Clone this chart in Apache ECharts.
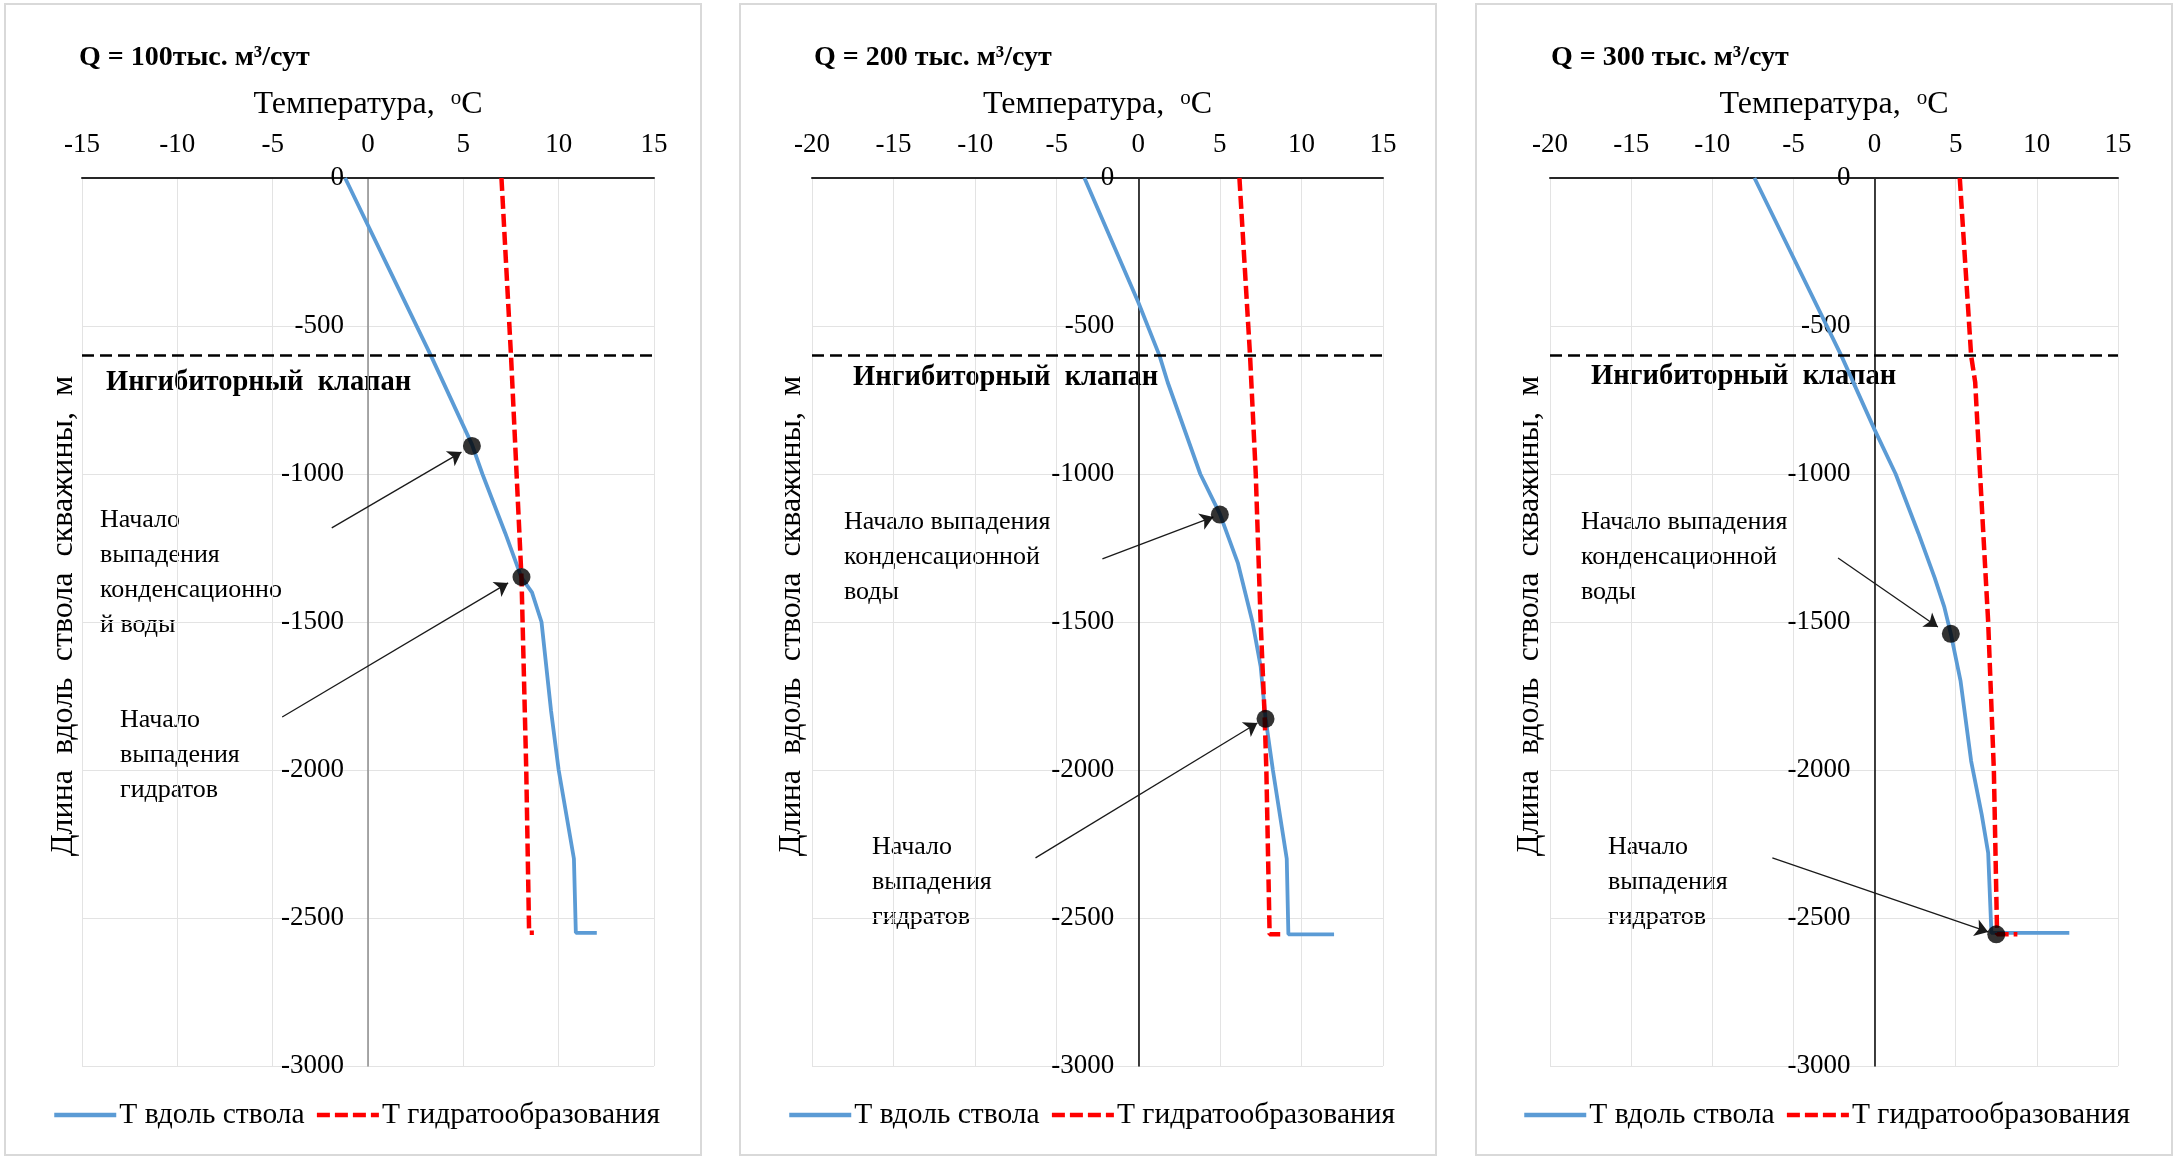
<!DOCTYPE html>
<html>
<head>
<meta charset="utf-8">
<title>Температура вдоль ствола скважины</title>
<script src="https://cdn.jsdelivr.net/npm/echarts@6/dist/echarts.min.js"></script>
<style>
	html,body{margin:0;padding:0;background:#fff;}
	#chart{width:2173px;height:1159px;}
</style>
</head>
<body>
<div id="chart"></div>
<script>
// ---- данные ----
var panelTitles = ['Q = 100тыс. м³/сут', 'Q = 200 тыс. м³/сут', 'Q = 300 тыс. м³/сут'];
var xMinList = [-15, -20, -20];
var xMaxList = [15, 15, 15];
var yMin = -3000;
var yMax = 0;
var valveDepth = -600; // ингибиторный клапан

// Q = 100
var wellDepth100 = [0, -300, -600, -900, -1000, -1200, -1350, -1400, -1500, -1800, -2000, -2300, -2550, -2550];
var wellTemp100 = [-1.2, 1.05, 3.3, 5.45, 6.0, 7.2, 8.05, 8.6, 9.1, 9.6, 10.0, 10.8, 10.9, 12.0];
var hydDepth100 = [0, -600, -1350, -2000, -2550, -2550];
var hydTemp100 = [7.0, 7.5, 8.05, 8.3, 8.45, 8.7];
var pointDepth100 = [-905, -1348];
var pointTemp100 = [5.45, 8.05];

// Q = 200
var wellDepth200 = [0, -420, -600, -690, -1000, -1135, -1300, -1500, -1650, -1825, -2000, -2300, -2555, -2555];
var wellTemp200 = [-3.3, 0, 1.3, 1.8, 3.8, 5.0, 6.1, 7.0, 7.5, 7.8, 8.25, 9.1, 9.2, 12.0];
var hydDepth200 = [0, -600, -1000, -1500, -1825, -2000, -2555, -2555];
var hydTemp200 = [6.2, 6.85, 7.2, 7.5, 7.75, 7.85, 8.05, 8.7];
var pointDepth200 = [-1137, -1827];
var pointTemp200 = [5.0, 7.8];

// Q = 300
var wellDepth300 = [0, -600, -850, -1000, -1200, -1350, -1450, -1540, -1700, -1970, -2150, -2280, -2550, -2550];
var wellTemp300 = [-7.4, -2.05, 0, 1.3, 2.7, 3.7, 4.3, 4.7, 5.3, 5.95, 6.6, 7.0, 7.2, 12.0];
var hydDepth300 = [0, -600, -690, -1000, -1500, -2000, -2555, -2555];
var hydTemp300 = [5.25, 5.95, 6.2, 6.5, 7.0, 7.35, 7.55, 8.8];
var pointDepth300 = [-1540, -2555];
var pointTemp300 = [4.7, 7.5];

var seriesNames = ['Т вдоль ствола', 'Т гидратообразования'];
var condLines = [
	['Начало', 'выпадения', 'конденсационно', 'й воды'],
	['Начало выпадения', 'конденсационной', 'воды'],
	['Начало выпадения', 'конденсационной', 'воды']
];
var hydLines = [
	['Начало', 'выпадения', 'гидратов'],
	['Начало', 'выпадения', 'гидратов'],
	['Начало', 'выпадения', 'гидратов']
];

// ---- оформление ----
var FONT = '"Liberation Serif", "Times New Roman", serif';
var blue = '#5b9bd5';
var red = '#ff0000';

var panels = [
	{frame:[5,4,696,1151], grid:{left:82,top:178,width:572,height:888}, title:[79,58], yName:[64,616],
		valve:[106,383], legendLeft:52, cond:[100,503], hyd:[120,703], yLine:'#8c8c8c',
		condArrow:[[-1.9,-1182],[4.9,-926]], hydArrow:[[-4.5,-1821],[7.35,-1368]]},
	{frame:[740,4,696,1151], grid:{left:812,top:178,width:571,height:888}, title:[814,58], yName:[792,616],
		valve:[853,378], legendLeft:787, cond:[844,505], hyd:[872,830], yLine:'#000',
		condArrow:[[-2.2,-1287],[4.6,-1145]], hydArrow:[[-6.3,-2297],[7.3,-1841]]},
	{frame:[1476,4,696,1151], grid:{left:1550,top:178,width:568,height:888}, title:[1551,58], yName:[1530,616],
		valve:[1591,377], legendLeft:1522, cond:[1581,505], hyd:[1608,830], yLine:'#000',
		condArrow:[[-2.25,-1284],[3.9,-1517]], hydArrow:[[-6.3,-2297],[7.0,-2547]]}
];

function pairs(t, d){
	var arr = [];
	for(var i=0;i<t.length;i++){
		arr.push([t[i], d[i]]);
	}
	return arr;
}

var wellData = [pairs(wellTemp100, wellDepth100), pairs(wellTemp200, wellDepth200), pairs(wellTemp300, wellDepth300)];
var hydData = [pairs(hydTemp100, hydDepth100), pairs(hydTemp200, hydDepth200), pairs(hydTemp300, hydDepth300)];
var pointData = [pairs(pointTemp100, pointDepth100), pairs(pointTemp200, pointDepth200), pairs(pointTemp300, pointDepth300)];

var grids = [], xAxes = [], yAxes = [], series = [], legends = [], graphics = [];

for(var i=0;i<3;i++){
	var p = panels[i];
	// ось Y проходит через 0 °C: сдвиг от левого края сетки
	var zeroShift = (0 - xMinList[i]) / (xMaxList[i] - xMinList[i]) * p.grid.width;
	grids.push({left:p.grid.left, top:p.grid.top, width:p.grid.width, height:p.grid.height, containLabel:false, outerBoundsMode:'none'});
	xAxes.push({
		type:'value', gridIndex:i, position:'top', min:xMinList[i], max:xMaxList[i], interval:5,
		name:'Температура,  {sup|o}C', nameLocation:'middle', nameGap:56,
		nameTextStyle:{fontFamily:FONT, fontSize:32, color:'#000',
			rich:{sup:{fontFamily:FONT, fontSize:21, color:'#000', padding:[0,0,13,0]}}},
		axisLine:{show:true, onZero:false, lineStyle:{color:'#262626', width:2}},
		axisTick:{show:false},
		axisLabel:{fontFamily:FONT, fontSize:27, color:'#000', margin:20},
		splitLine:{show:true, lineStyle:{color:'#e3e3e3', width:1}}
	});
	yAxes.push({
		type:'value', gridIndex:i, min:yMin, max:yMax, interval:500,
		position:'left', offset:-zeroShift,
		axisLine:{show:true, onZero:false, lineStyle:{color:p.yLine, width:1.5}},
		axisTick:{show:false},
		axisLabel:{fontFamily:FONT, fontSize:27, color:'#000', margin:24, formatter:function(v){return String(v);}},
		splitLine:{show:true, lineStyle:{color:'#e3e3e3', width:1}}
	});
	series.push({
		name:seriesNames[0], type:'line', xAxisIndex:i, yAxisIndex:i, data:wellData[i],
		symbol:'none', showSymbol:false, smooth:false, z:3,
		lineStyle:{color:blue, width:3.8}, itemStyle:{color:blue},
		markLine:{silent:true, symbol:['none','none'], animation:false,
			lineStyle:{color:'#000', width:2.6, type:[12,6]}, label:{show:false},
			data:[{yAxis:valveDepth}]}
	});
	series.push({
		name:seriesNames[1], type:'line', xAxisIndex:i, yAxisIndex:i, data:hydData[i],
		symbol:'none', showSymbol:false, smooth:false, z:4,
		lineStyle:{color:red, width:4.5, type:[13,5]}, itemStyle:{color:red}
	});
	series.push({
		name:'точки', type:'scatter', xAxisIndex:i, yAxisIndex:i, data:pointData[i],
		symbol:'circle', symbolSize:18, z:6, itemStyle:{color:'#000'},
		markLine:{silent:true, symbol:['none','arrow'], symbolSize:13, animation:false,
			lineStyle:{color:'#1a1a1a', width:1.3, type:'solid'}, label:{show:false},
			data:[
				[{coord:p.condArrow[0]}, {coord:p.condArrow[1]}],
				[{coord:p.hydArrow[0]}, {coord:p.hydArrow[1]}]
			]}
	});
	legends.push({
		left:p.legendLeft, top:1100, orient:'horizontal', padding:0,
		itemWidth:62, itemHeight:14, itemGap:10,
		data:seriesNames,
		itemStyle:{opacity:0},
		lineStyle:{width:4.5},
		textStyle:{fontFamily:FONT, fontSize:29.5, color:'#000', padding:[0,0,0,-2]}
	});
	// рамка панели
	graphics.push({type:'rect', z:-10, shape:{x:p.frame[0], y:p.frame[1], width:p.frame[2], height:p.frame[3]},
		style:{fill:'transparent', stroke:'#d9d9d9', lineWidth:2}});
	// заголовок
	graphics.push({type:'text', x:p.title[0], y:p.title[1],
		style:{text:panelTitles[i], fontFamily:FONT, fontSize:28, fontWeight:'bold', fill:'#000', align:'left', verticalAlign:'middle'}});
	// подпись оси Y
	graphics.push({type:'text', x:p.yName[0], y:p.yName[1], rotation:Math.PI/2,
		style:{text:'Длина  вдоль  ствола  скважины,  м', fontFamily:FONT, fontSize:32, fill:'#000', align:'center', verticalAlign:'middle'}});
	// ингибиторный клапан
	graphics.push({type:'text', x:p.valve[0], y:p.valve[1],
		style:{text:'Ингибиторный  клапан', fontFamily:FONT, fontSize:28.5, fontWeight:'bold', fill:'#000', align:'left', verticalAlign:'middle'}});
	graphics.push({type:'text', x:p.cond[0], y:p.cond[1],
		style:{text:condLines[i].join('\n'), fontFamily:FONT, fontSize:26, lineHeight:35, fill:'#000', align:'left', verticalAlign:'top'}});
	graphics.push({type:'text', x:p.hyd[0], y:p.hyd[1],
		style:{text:hydLines[i].join('\n'), fontFamily:FONT, fontSize:26, lineHeight:35, fill:'#000', align:'left', verticalAlign:'top'}});
}

var myChart = echarts.init(document.getElementById('chart'), null, {renderer:'canvas'});
var option = {
	backgroundColor:'#ffffff',
	animation:false,
	textStyle:{fontFamily:FONT},
	grid:grids,
	xAxis:xAxes,
	yAxis:yAxes,
	legend:legends,
	series:series,
	graphic:graphics
};
myChart.setOption(option);
</script>
</body>
</html>
